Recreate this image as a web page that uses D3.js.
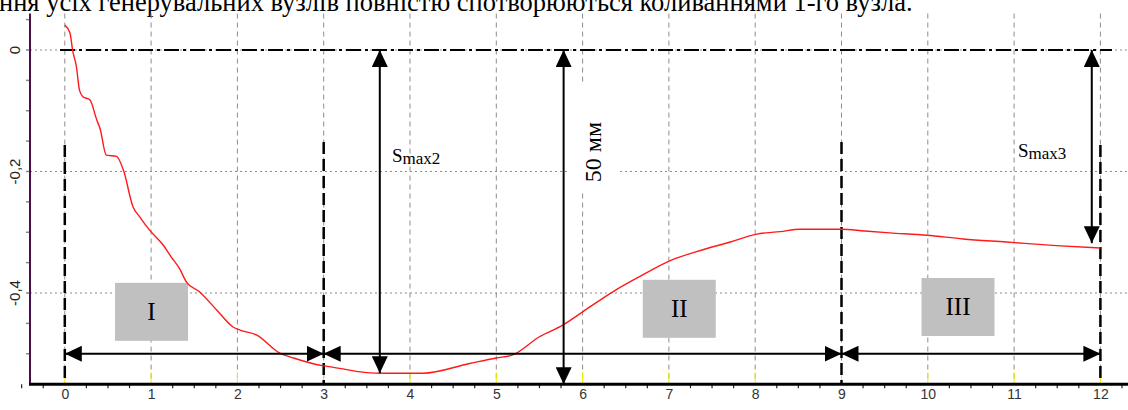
<!DOCTYPE html>
<html><head><meta charset="utf-8">
<script src="https://cdn.jsdelivr.net/npm/d3@7"></script>
<style>html,body{margin:0;padding:0;background:#fff;overflow:hidden}</style>
</head><body>
<script>
// ---- data ----
const titleText = "ння усіх генерувальних вузлів повністю спотворюються коливаннями 1-го вузла.";
const curveT = [0, 0.06, 0.09, 0.135, 0.17, 0.21, 0.29, 0.37, 0.41, 0.48, 0.6, 0.68, 0.79, 0.87, 0.98, 1.14, 1.23, 1.33, 1.41, 1.56, 1.76, 1.95, 2.03, 2.22, 2.49, 2.65, 3.0, 3.1, 3.5, 3.69, 4.15, 4.69, 5.0, 5.19, 5.5, 5.77, 6.0, 6.35, 6.66, 7.01, 7.32, 7.71, 8.02, 8.29, 8.52, 9.0, 9.27, 9.56, 9.99, 10.41, 10.91, 11.49, 12.0];
const curveV = [0.041, 0.028, 0, -0.028, -0.066, -0.077, -0.082, -0.115, -0.13, -0.173, -0.175, -0.198, -0.258, -0.275, -0.296, -0.321, -0.34, -0.36, -0.382, -0.398, -0.428, -0.456, -0.461, -0.469, -0.499, -0.507, -0.52, -0.522, -0.531, -0.532, -0.532, -0.516, -0.507, -0.502, -0.472, -0.453, -0.431, -0.398, -0.373, -0.347, -0.332, -0.316, -0.303, -0.299, -0.295, -0.295, -0.298, -0.301, -0.305, -0.311, -0.316, -0.322, -0.326];
const xTicks = [0,1,2,3,4,5,6,7,8,9,10,11,12];
const yTicks = [0, -0.2, -0.4];
const yTickLabels = ["0", "-0,2", "-0,4"];
const zoneBounds = [0, 3, 9, 12];
const zoneNames = ["I", "II", "III"];
const zoneLabelT = [1.005, 7.12, 10.35];
const zoneLabelV = [-0.431, -0.426, -0.423];
const arrowLevel = -0.5;
const vArrowT = [3.65, 5.78, 11.9];
const vArrowEnd = [-0.532, -0.55, -0.318];
const vArrowLabels = [["S","max2"], null, ["S","max3"]];

// ---- layout ----
const W = 1128, H = 410;
const x = d3.scaleLinear().domain([0, 12]).range([64.8, 1100.4]);
const y = d3.scaleLinear().domain([0, -0.4]).range([50, 293]);
const yBottom = -0.55, yTop = 0.06;

const svg = d3.select("body").append("svg").attr("width", W).attr("height", H);

const defs = svg.append("defs");
defs.append("marker").attr("id", "ah")
  .attr("viewBox", "0 0 17 16").attr("refX", 17).attr("refY", 8)
  .attr("markerWidth", 17).attr("markerHeight", 16)
  .attr("markerUnits", "userSpaceOnUse").attr("orient", "auto-start-reverse")
  .append("path").attr("d", "M0,0L17,8L0,16Z").attr("fill", "#000");

// title (cropped at top, as in the reference)
svg.append("text").attr("x", -1).attr("y", 11)
  .attr("font-family", "Liberation Serif, Times New Roman, serif")
  .attr("font-size", 26.5).attr("fill", "#000").text(titleText);

// grid
const g = svg.append("g");
g.selectAll(".vg").data(xTicks).join("line")
  .attr("x1", d => x(d)).attr("x2", d => x(d))
  .attr("y1", y(yTop)).attr("y2", y(yBottom))
  .attr("stroke", "#8c8c8c").attr("stroke-width", 1).attr("stroke-dasharray", "5,4");
g.selectAll(".hg").data(yTicks).join("line")
  .attr("x1", 30).attr("x2", W)
  .attr("y1", d => y(d)).attr("y2", d => y(d))
  .attr("stroke", "#8c8c8c").attr("stroke-width", 1.2).attr("stroke-dasharray", "2,3");
g.selectAll(".yg").data(xTicks).join("line")
  .attr("x1", d => x(d)).attr("x2", d => x(d))
  .attr("y1", y(yBottom) - 12).attr("y2", y(yBottom) - 1)
  .attr("stroke", "#f2f200").attr("stroke-width", 1);

// zone boxes
zoneNames.forEach((n, i) => {
  const cx = x(zoneLabelT[i]);
  const cy = y(zoneLabelV[i]);
  svg.append("rect").attr("x", cx - 36.5).attr("y", cy - 29).attr("width", 73).attr("height", 58)
    .attr("fill", "#c0c0c0");
  svg.append("text").attr("x", cx).attr("y", cy + 8.5).attr("text-anchor", "middle")
    .attr("font-family", "Liberation Serif, Times New Roman, serif").attr("font-size", 25)
    .attr("fill", "#000").text(n);
});

// white box behind 50 мм label
svg.append("rect").attr("x", 567).attr("y", 83).attr("width", 53).attr("height", 109).attr("fill", "#fff");

// zero dash-dot line
svg.append("line").attr("x1", 60).attr("x2", 1112).attr("y1", y(0)).attr("y2", y(0))
  .attr("stroke", "#000").attr("stroke-width", 2).attr("stroke-dasharray", "15,4,3,4");

// zone boundary dashed lines
svg.selectAll(".zb").data(zoneBounds).join("line")
  .attr("x1", d => x(d)).attr("x2", d => x(d))
  .attr("y1", (d, i) => (i === 0 || i === 3) ? 145 : 142).attr("y2", y(yBottom))
  .attr("stroke", "#000").attr("stroke-width", 2.5).attr("stroke-dasharray", "12,5");

// red curve
const pts = curveT.map((t, i) => [t, curveV[i]]);
svg.append("path").datum(pts)
  .attr("d", d3.line().x(d => x(d[0])).y(d => y(d[1])).curve(d3.curveMonotoneX))
  .attr("fill", "none").attr("stroke", "#ff1a1a").attr("stroke-width", 1.4);

// horizontal double arrows
for (let i = 0; i < zoneBounds.length - 1; i++) {
  svg.append("line")
    .attr("x1", x(zoneBounds[i])).attr("x2", x(zoneBounds[i + 1]))
    .attr("y1", y(arrowLevel)).attr("y2", y(arrowLevel))
    .attr("stroke", "#000").attr("stroke-width", 2)
    .attr("marker-start", "url(#ah)").attr("marker-end", "url(#ah)");
}

// vertical double arrows
vArrowT.forEach((t, i) => {
  svg.append("line").attr("x1", x(t)).attr("x2", x(t))
    .attr("y1", y(0)).attr("y2", y(vArrowEnd[i]))
    .attr("stroke", "#000").attr("stroke-width", 2)
    .attr("marker-start", "url(#ah)").attr("marker-end", "url(#ah)");
});

// arrow labels
const lblPos = [[392, 162], null, [1018, 157]];
vArrowLabels.forEach((l, i) => {
  if (!l) return;
  const t = svg.append("text").attr("x", lblPos[i][0]).attr("y", lblPos[i][1])
    .attr("font-family", "Liberation Serif, Times New Roman, serif").attr("fill", "#000");
  t.append("tspan").attr("font-size", 19).text(l[0]);
  t.append("tspan").attr("font-size", 17).attr("dy", 2).text(l[1]);
});
svg.append("text").attr("transform", `translate(601,152) rotate(-90)`)
  .attr("text-anchor", "middle")
  .attr("font-family", "Liberation Serif, Times New Roman, serif").attr("font-size", 24)
  .attr("fill", "#000").text("50 мм");

// axes
const yAxisG = svg.append("g");
yAxisG.append("line").attr("x1", 30).attr("x2", 30).attr("y1", y(yTop)).attr("y2", y(yBottom))
  .attr("stroke", "#4a0f4a").attr("stroke-width", 2);
const yMinor = d3.range(1, 12).map(k => 0.05 - k * 0.05).concat([0.05]);
yAxisG.selectAll(".ym").data(yMinor).join("line")
  .attr("x1", 26).attr("x2", 29).attr("y1", d => y(d)).attr("y2", d => y(d))
  .attr("stroke", "#888").attr("stroke-width", 1.5);
yAxisG.selectAll(".yl").data(yTicks).join("text")
  .attr("transform", d => `translate(20,${y(d)}) rotate(-90)`)
  .attr("text-anchor", "middle")
  .attr("font-family", "Liberation Sans, Arial, sans-serif").attr("font-size", 15)
  .attr("fill", "#222").text((d, i) => yTickLabels[i]);

const xAxis = d3.axisBottom(x).tickValues(xTicks).tickSize(0).tickPadding(5).tickFormat(d3.format("d"));
const xg = svg.append("g").attr("transform", `translate(0,${y(yBottom)})`).call(xAxis);
xg.select(".domain").remove();
xg.selectAll("text").attr("font-family", "Liberation Sans, Arial, sans-serif").attr("font-size", 14).attr("fill", "#333");
const minorT = d3.range(-0.5, 12.76, 0.25).filter(d => Math.abs(d - Math.round(d)) > 0.01);
svg.selectAll(".xm").data(minorT).join("line")
  .attr("x1", d => x(d)).attr("x2", d => x(d))
  .attr("y1", y(yBottom)).attr("y2", y(yBottom) + 4)
  .attr("stroke", "#222").attr("stroke-width", 1.2);
svg.append("line").attr("x1", 29).attr("x2", W).attr("y1", y(yBottom)).attr("y2", y(yBottom))
  .attr("stroke", "#000").attr("stroke-width", 3);
</script>
</body></html>
